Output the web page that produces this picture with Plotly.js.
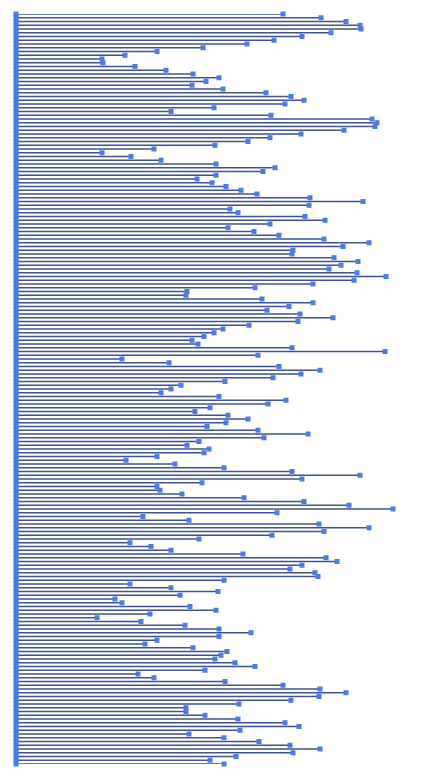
<!DOCTYPE html>
<html>
<head>
<meta charset="utf-8">
<script src="https://cdn.plot.ly/plotly-3.0.1.min.js"></script>
<style>
  html, body { margin: 0; padding: 0; background: #ffffff; }
  #chart { width: 426px; height: 783px; }
</style>
</head>
<body>
<div id="chart"></div>
<script>
// End value of each row (top to bottom); every row starts at 0
const endValues = [
  267, 305, 330, 344, 345, 315, 286, 258, 231, 187,
  141, 109, 86, 87, 119, 150, 177, 203, 190, 176,
  207, 250, 275, 288, 269, 198, 155, 255, 356, 361,
  359, 328, 285, 254, 232, 199, 138, 86, 115, 145,
  200, 259, 247, 200, 181, 196, 210, 225, 241, 294,
  347, 293, 214, 222, 289, 309, 254, 212, 238, 263,
  308, 353, 327, 277, 276, 318, 342, 325, 313, 341,
  370, 338, 297, 239, 171, 170, 246, 297, 273, 251,
  284, 317, 282, 233, 207, 198, 188, 176, 182, 276,
  369, 242, 106, 153, 263, 304, 285, 257, 209, 165,
  155, 145, 203, 270, 252, 194, 179, 212, 232, 210,
  191, 242, 292, 248, 183, 171, 193, 188, 141, 110,
  159, 208, 276, 344, 286, 186, 141, 144, 166, 228,
  288, 333, 377, 261, 127, 173, 303, 353, 308, 256,
  183, 114, 135, 155, 227, 310, 321, 286, 274, 299,
  302, 208, 114, 155, 202, 164, 99, 106, 174, 200,
  134, 81, 125, 169, 203, 235, 203, 141, 129, 177,
  211, 205, 199, 219, 239, 189, 122, 138, 209, 267,
  304, 330, 303, 275, 223, 170, 170, 189, 222, 269,
  283, 224, 173, 208, 243, 274, 304, 277, 220, 194,
  208
];
const startValue = 0;
const categories = endValues.map((_, i) => 'Row ' + (i + 1));

const xs = [], ys = [];
categories.forEach((c, i) => {
  xs.push(startValue, endValues[i], null);
  ys.push(c, c, null);
});

const trace = {
  type: 'scatter',
  mode: 'lines+markers',
  x: xs,
  y: ys,
  cliponaxis: false,
  connectgaps: false,
  line: { color: '#3f5490', width: 1.3 },
  marker: { symbol: 'square', size: 5, color: '#4a7bea' },
  hoverinfo: 'x+y'
};

const layout = {
  width: 426,
  height: 783,
  margin: { l: 16, r: 10, t: 14, b: 19 },
  paper_bgcolor: '#ffffff',
  plot_bgcolor: '#ffffff',
  showlegend: false,
  xaxis: {
    range: [0, 400],
    showgrid: false, zeroline: false, showline: false,
    showticklabels: false, ticks: ''
  },
  yaxis: {
    type: 'category',
    categoryorder: 'array',
    categoryarray: categories,
    range: [categories.length - 1, 0],
    showgrid: false, zeroline: false, showline: false,
    showticklabels: false, ticks: ''
  }
};

Plotly.newPlot('chart', [trace], layout, { displayModeBar: false, staticPlot: true });
</script>
</body>
</html>
